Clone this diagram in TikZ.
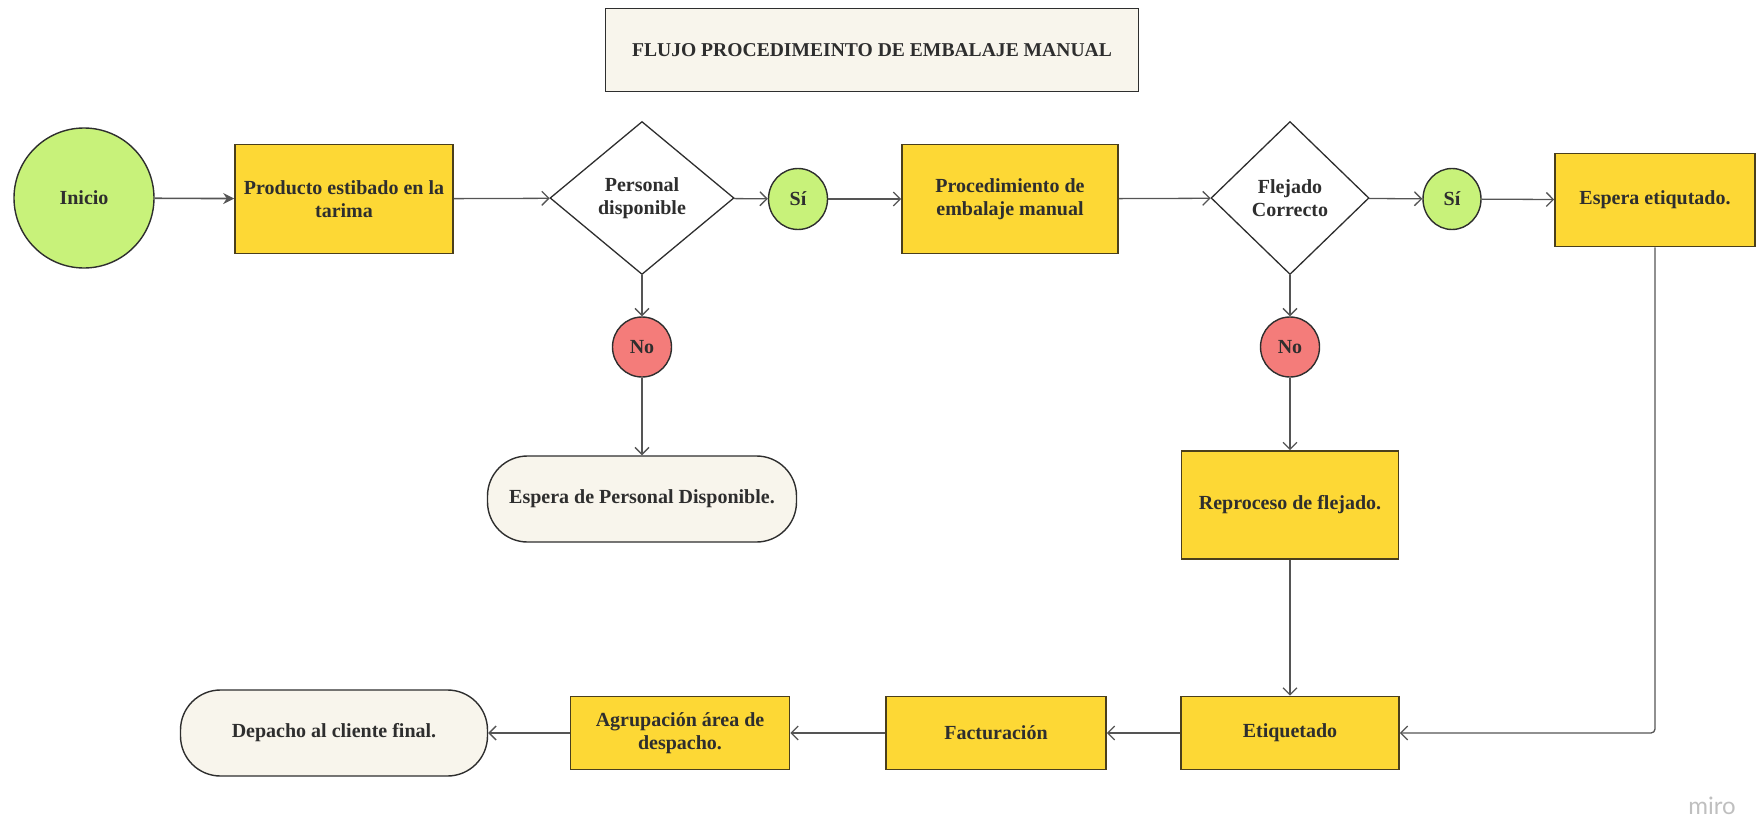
\documentclass[tikz,border=0pt]{standalone}
\usepackage{fontspec}
\setmainfont{Liberation Serif}
\newfontfamily\mirofont{Lato}
\usetikzlibrary{shapes.geometric,arrows.meta}
\definecolor{ybox}{HTML}{FDD835}
\definecolor{yborder}{HTML}{4A3F1C}
\definecolor{gcirc}{HTML}{C8F27A}
\definecolor{rcirc}{HTML}{F47C7A}
\definecolor{cream}{HTML}{F8F5EC}
\definecolor{lin}{HTML}{555555}
\definecolor{txt}{HTML}{2E2E2E}
\tikzset{
  base/.style={font=\fontsize{20}{23}\selectfont\bfseries, text=txt, align=center, inner sep=0pt},
  ybx/.style={base, rectangle, draw=yborder, line width=1.6pt, fill=ybox},
  crc/.style={base, ellipse, draw=txt, line width=1.4pt},
  dmd/.style={base, diamond, draw=txt, line width=1.3pt, fill=white},
  stad/.style={base, rectangle, rounded corners=40pt, draw=txt, line width=1.4pt, fill=cream},
  conn/.style={draw=lin, line width=1.3pt, -{Straight Barb[length=7pt,width=14pt]}},
  conn1/.style={draw=lin, line width=1.6pt, -{Stealth[length=11pt,width=11pt]}}
}
\begin{document}
\begin{tikzpicture}[x=1pt,y=-1pt]
\useasboundingbox (0,0) rectangle (1758,824);
% title
\node[base, rectangle, draw=txt, line width=1.4pt, fill=cream, font=\fontsize{19.6}{23}\selectfont\bfseries, minimum width=533pt, minimum height=83pt] (title) at (872,50) {FLUJO PROCEDIMEINTO DE EMBALAJE MANUAL};
% top row
\node[crc, fill=gcirc, minimum width=140pt, minimum height=140pt] (inicio) at (84,198) {Inicio};
\node[ybx, minimum width=218pt, minimum height=109pt] (producto) at (344,199) {Producto estibado en la\\tarima};
\node[dmd, minimum width=184pt, minimum height=153pt] (d1) at (642,198) {Personal\\disponible};
\node[crc, fill=gcirc, minimum width=59pt, minimum height=61pt] (si1) at (798,199) {Sí};
\node[ybx, minimum width=216pt, minimum height=109pt] (proc) at (1010,199) {Procedimiento de\\embalaje manual};
\node[dmd, minimum width=158pt, minimum height=153pt] (d2) at (1290,198) {Flejado\\Correcto};
\node[crc, fill=gcirc, minimum width=58pt, minimum height=61pt] (si2) at (1452,199) {Sí};
\node[ybx, minimum width=200pt, minimum height=93pt] (espera) at (1655,200) {Espera etiqutado.};
% middle
\node[crc, fill=rcirc, minimum width=59pt, minimum height=60pt] (no1) at (642,347) {No};
\node[stad, minimum width=309pt, minimum height=86pt] (esperap) at (642,499) {Espera de Personal Disponible.};
\node[crc, fill=rcirc, minimum width=59pt, minimum height=60pt] (no2) at (1290,347) {No};
\node[ybx, minimum width=217pt, minimum height=108pt] (repro) at (1290,505) {Reproceso de flejado.};
% bottom row
\node[ybx, minimum width=218pt, minimum height=73pt] (etiq) at (1290,733) {Etiquetado};
\node[ybx, minimum width=220pt, minimum height=73pt] (fact) at (996,733) {Facturación};
\node[ybx, minimum width=219pt, minimum height=73pt] (agrup) at (680,733) {Agrupación área de\\despacho.};
\node[stad, minimum width=307pt, minimum height=86pt] (desp) at (334,733) {Depacho al cliente final.};
% watermark
\node[font=\mirofont\fontsize{24}{26}\selectfont, text=black!25, inner sep=0pt] (miro) at (1712,806) {miro};
% connectors
\draw[conn1] (inicio) -- (producto);
\draw[conn] (producto) -- (d1);
\draw[conn] (d1) -- (si1);
\draw[conn] (si1) -- (proc);
\draw[conn] (proc) -- (d2);
\draw[conn] (d2) -- (si2);
\draw[conn] (si2) -- (espera);
\draw[conn] (d1) -- (no1);
\draw[conn] (no1) -- (esperap);
\draw[conn] (d2) -- (no2);
\draw[conn] (no2) -- (repro);
\draw[conn] (repro) -- (etiq);
\draw[conn, rounded corners=4pt] (espera.south) |- (etiq.east);
\draw[conn] (etiq) -- (fact);
\draw[conn] (fact) -- (agrup);
\draw[conn] (agrup) -- (desp);
\end{tikzpicture}
\end{document}
